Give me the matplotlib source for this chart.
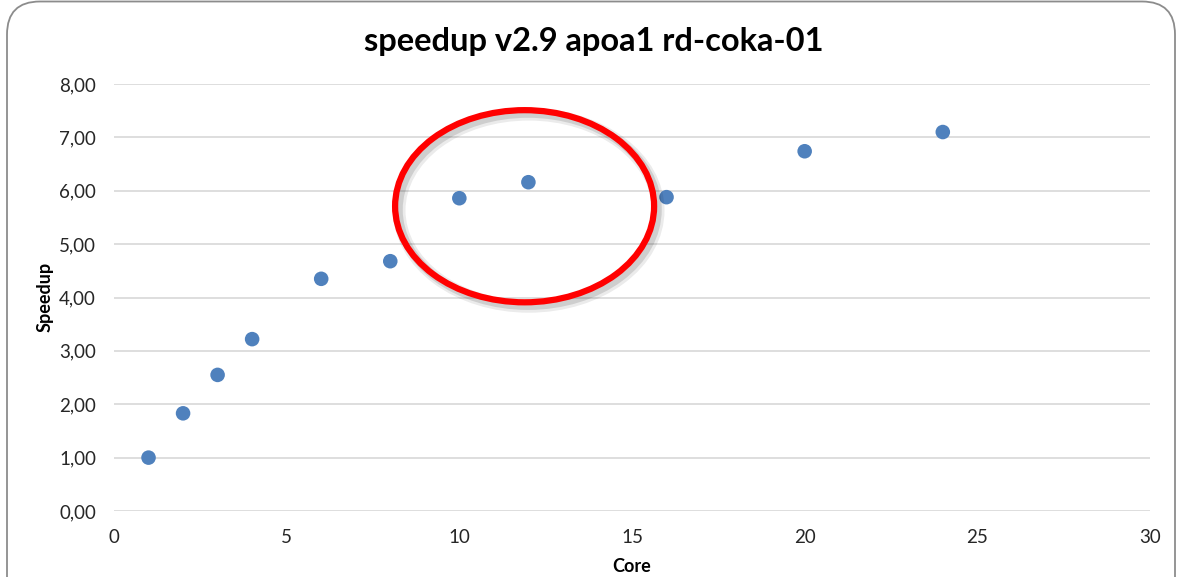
import matplotlib
matplotlib.use("Agg")
import matplotlib.pyplot as plt
from matplotlib.patches import Ellipse, FancyBboxPatch
from matplotlib import patheffects as pe
from matplotlib.ticker import FuncFormatter

# measured speedup per core count
cores = [1, 2, 3, 4, 6, 8, 10, 12, 16, 20, 24]
speedup = [1.00, 1.83, 2.55, 3.22, 4.35, 4.68, 5.86, 6.16, 5.88, 6.74, 7.10]

x_ticks = [0, 5, 10, 15, 20, 25, 30]
y_ticks = [0, 1, 2, 3, 4, 5, 6, 7, 8]

# highlight ring around the plateau region (centre, width, height in data units)
ring_center = (11.89, 5.71)
ring_size = (7.5, 3.6)

plt.rcParams['font.family'] = ['Lato', 'DejaVu Sans']

W, H = 1178, 577
fig = plt.figure(figsize=(W / 100, H / 100), dpi=100)
fig.patch.set_facecolor('white')

# outer chart frame with rounded corners
frame = FancyBboxPatch((7 / W, -0.2), 1168 / W, 1.2 - 1.5 / H,
                       boxstyle="round,pad=0,rounding_size=0.028",
                       transform=fig.transFigure, fill=False,
                       edgecolor='#8c8c8c', linewidth=1.3,
                       mutation_aspect=W / H)
fig.patches.append(frame)

ax = fig.add_axes([114 / W, 1 - 511 / H, (1150 - 114) / W, (511 - 84) / H])
ax.set_facecolor('none')

ax.scatter(cores, speedup, s=110, color='#4F81BD', edgecolors='none', zorder=3)

ax.set_xlim(0, 30)
ax.set_ylim(0, 8)
ax.set_xticks(x_ticks)
ax.set_yticks(y_ticks)
ax.yaxis.set_major_formatter(FuncFormatter(lambda v, p: f"{v:.2f}".replace('.', ',')))
ax.xaxis.set_major_formatter(FuncFormatter(lambda v, p: f"{v:g}"))

ax.grid(axis='y', color='#d4d4d4', linewidth=1.1)
ax.set_axisbelow(True)
for s in ax.spines.values():
    s.set_visible(False)
ax.tick_params(length=0, labelsize=13.5, labelcolor='#262626')
ax.tick_params(axis='y', pad=13)
ax.tick_params(axis='x', pad=13)

fig.text(594 / W, 1 - 42 / H, "speedup v2.9 apoa1 rd-coka-01", fontsize=23.5,
         fontweight='bold', ha='center', va='center', color='black')
ax.set_xlabel("Core", fontsize=13, fontweight='bold')
ax.set_ylabel("Speedup", fontsize=13, fontweight='bold')
ax.xaxis.set_label_coords((632 - 114) / (1150 - 114), -(567 - 511) / (511 - 84))
ax.yaxis.set_label_coords(-(114 - 45) / (1150 - 114), (511 - 297) / (511 - 84))
ax.xaxis.label.set_va('center')
ax.yaxis.label.set_va('center')

ring = Ellipse(ring_center, ring_size[0], ring_size[1], fill=False,
               edgecolor='#ff0000', linewidth=4.5, zorder=4)
ring.set_path_effects([
    pe.SimpleLineShadow(offset=(3, -3), shadow_color='#000000', alpha=0.08, linewidth=9),
    pe.SimpleLineShadow(offset=(2.5, -2.5), shadow_color='#000000', alpha=0.12, linewidth=6),
    pe.Normal(),
])
ax.add_patch(ring)

fig.savefig("out.png", dpi=100)
